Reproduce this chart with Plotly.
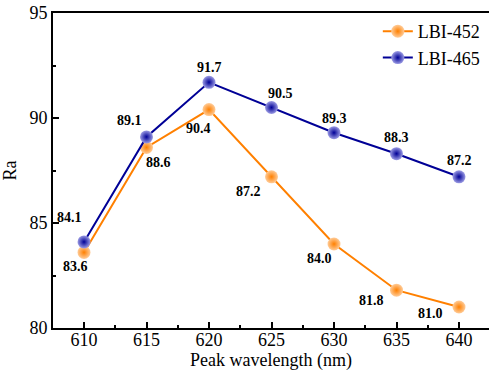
import plotly.graph_objects as go

wavelength = [610, 615, 620, 625, 630, 635, 640]
lbi452 = [83.6, 88.6, 90.4, 87.2, 84.0, 81.8, 81.0]
lbi465 = [84.1, 89.1, 91.7, 90.5, 89.3, 88.3, 87.2]
x_ticks = [610, 615, 620, 625, 630, 635, 640]
y_ticks = [80, 85, 90, 95]

orange = "#FF8000"
blue = "#000096"
font_family = "Liberation Serif, Times New Roman, serif"

fig = go.Figure()
fig.add_trace(go.Scatter(
    x=wavelength, y=lbi452, name="LBI-452", mode="lines+markers",
    line=dict(color=orange, width=2),
    marker=dict(size=13, color="#FFCC99", gradient=dict(type="radial", color=orange), line=dict(width=0)),
))
fig.add_trace(go.Scatter(
    x=wavelength, y=lbi465, name="LBI-465", mode="lines+markers",
    line=dict(color=blue, width=2),
    marker=dict(size=13, color="#9C9CE4", gradient=dict(type="radial", color=blue), line=dict(width=0)),
))

# label offsets (pixels)
off452 = [(-9, -14), (12, -15), (-11, -19), (-23, -15), (-15, -14), (-25, -10), (-29, -6)]
off465 = [(-15, 24), (-17, 16), (0, 15), (9, 14), (0, 14), (0, 16), (0, 16)]
for xs, ys, offs in [(wavelength, lbi452, off452), (wavelength, lbi465, off465)]:
    for xv, yv, (dx, dy) in zip(xs, ys, offs):
        fig.add_annotation(x=xv, y=yv, text=f"<b>{yv:.1f}</b>", showarrow=False,
                           xshift=dx, yshift=dy,
                           font=dict(family=font_family, size=14, color="black"))

axis_common = dict(
    showline=True, linecolor="black", linewidth=2, mirror=True,
    ticks="inside", ticklen=6, tickwidth=1.5, tickcolor="black",
    showgrid=False, zeroline=False,
    tickfont=dict(family=font_family, size=18, color="black"),
    title_font=dict(family=font_family, size=18, color="black"),
)
fig.update_xaxes(range=[607.52, 642.4], tickvals=x_ticks,
                 minor=dict(ticks="inside", ticklen=3, tickwidth=1.5, tickcolor="black", dtick=2.5, tick0=610),
                 ticklabelstandoff=-6,
                 title_text="Peak wavelength (nm)", title_standoff=2, **axis_common)
fig.update_yaxes(range=[80, 95], tickvals=y_ticks,
                 minor=dict(ticks="inside", ticklen=3, tickwidth=1.5, tickcolor="black", dtick=2.5, tick0=80),
                 title_text="Ra", title_standoff=8, **axis_common)

fig.update_layout(
    width=489, height=378,
    margin=dict(l=53, r=0, t=13, b=50, autoexpand=False),
    plot_bgcolor="white", paper_bgcolor="white",
    showlegend=True,
    legend=dict(x=0.745, y=1.0, xanchor="left", yanchor="top",
                bgcolor="rgba(0,0,0,0)", font=dict(family=font_family, size=18, color="black"),
                tracegroupgap=0, itemwidth=30),
)

fig.write_html("out.html", config={"displayModeBar": False},
               post_script="document.body.style.margin='0';document.body.style.overflow='hidden';")
